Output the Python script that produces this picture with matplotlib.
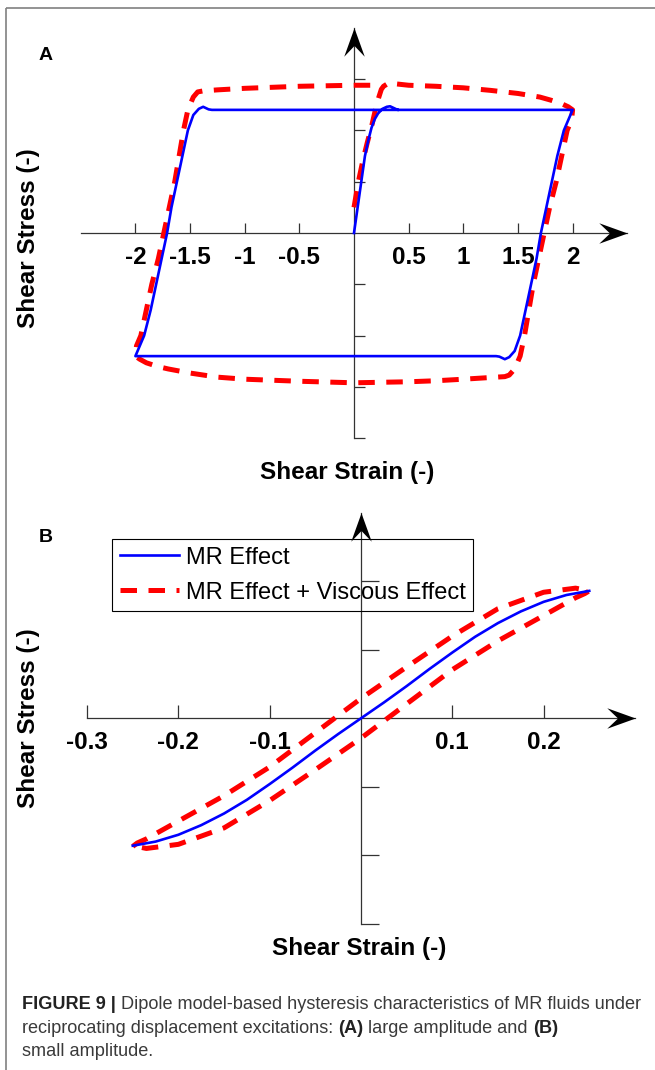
import matplotlib
matplotlib.use('Agg')
import matplotlib.pyplot as plt
from matplotlib.path import Path
from matplotlib.transforms import ScaledTranslation

plt.rcParams['font.family'] = ['Liberation Sans', 'DejaVu Sans']

W, H, DPI = 655, 1070, 100

# ---------------- Panel A data ----------------
a_xticks = [-2, -1.5, -1, -0.5, 0.5, 1, 1.5, 2]
a_xticklabels = ['-2', '-1.5', '-1', '-0.5', '0.5', '1', '1.5', '2']
a_yticks = [-4, -3, -2, -1, 1, 2, 3]

a_blue_x = [0.0, 0.02, 0.04, 0.06, 0.08, 0.10, 0.13, 0.16, 0.19, 0.22, 0.26, 0.30, 0.33, 0.36, 0.40, 2.00,
            1.98, 1.96, 1.92, 1.86, 1.81, 1.76, 1.71, 1.67, 1.62, 1.57, 1.52, 1.47, 1.42, 1.38, 1.33, 1.30, -2.00,
            -1.98, -1.96, -1.92, -1.86, -1.81, -1.76, -1.71, -1.67, -1.62, -1.57, -1.52, -1.47, -1.42, -1.38, -1.33, -1.30, 0.40]
a_blue_y = [0.0, 0.3, 0.6, 0.9, 1.2, 1.5, 1.8, 2.05, 2.22, 2.33, 2.42, 2.46, 2.47, 2.44, 2.40, 2.40,
            2.30, 2.20, 2.00, 1.50, 1.00, 0.50, 0.00, -0.50, -1.00, -1.50, -2.00, -2.30, -2.42, -2.46, -2.41, -2.40, -2.40,
            -2.30, -2.20, -2.00, -1.50, -1.00, -0.50, 0.00, 0.50, 1.00, 1.50, 2.00, 2.30, 2.42, 2.46, 2.41, 2.40, 2.40]

a_red_x = [0.00, 0.04, 0.08, 0.12, 0.16, 0.19, 0.22, 0.25, 0.27, 0.30, 0.33, 0.37,
           0.50, 0.75, 1.00, 1.25, 1.50, 1.70, 1.80, 1.90, 1.96, 2.00,
           1.99, 1.95, 1.90, 1.85, 1.79, 1.74, 1.69, 1.64, 1.60, 1.56, 1.52, 1.47, 1.42, 1.38,
           1.30, 1.00, 0.75, 0.50, 0.00, -0.50, -0.75, -1.00, -1.25, -1.50, -1.70, -1.80, -1.90, -1.96, -2.00,
           -1.99, -1.95, -1.90, -1.85, -1.79, -1.74, -1.69, -1.64, -1.60, -1.56, -1.52, -1.47, -1.43, -1.38,
           -1.25, -1.00, -0.75, -0.50, -0.25, 0.00, 0.25]
a_red_y = [0.50, 1.00, 1.40, 1.75, 2.07, 2.35, 2.60, 2.80, 2.86, 2.90, 2.94, 2.91,
           2.88, 2.86, 2.83, 2.78, 2.72, 2.65, 2.59, 2.52, 2.46, 2.40,
           2.20, 2.00, 1.50, 1.00, 0.50, 0.00, -0.50, -1.00, -1.50, -2.00, -2.40, -2.65, -2.77, -2.80,
           -2.81, -2.85, -2.88, -2.90, -2.92, -2.89, -2.87, -2.85, -2.81, -2.73, -2.65, -2.60, -2.53, -2.46, -2.40,
           -2.20, -2.00, -1.50, -1.00, -0.50, 0.00, 0.50, 1.00, 1.50, 2.00, 2.40, 2.65, 2.75, 2.77,
           2.79, 2.82, 2.84, 2.86, 2.87, 2.88, 2.88]

# ---------------- Panel B data ----------------
b_xticks = [-0.3, -0.2, -0.1, 0.1, 0.2]
b_xticklabels = ['-0.3', '-0.2', '-0.1', '0.1', '0.2']
b_yticks = [-3, -2, -1, 1, 2]

b_blue_x = [-0.25, -0.225, -0.2, -0.175, -0.15, -0.125, -0.1, -0.075, -0.05, -0.025, 0.0,
            0.025, 0.05, 0.075, 0.1, 0.125, 0.15, 0.175, 0.2, 0.225, 0.25]
b_blue_y = [-1.86, -1.80, -1.70, -1.56, -1.39, -1.19, -0.96, -0.72, -0.47, -0.23, 0.0,
            0.23, 0.47, 0.72, 0.96, 1.19, 1.39, 1.56, 1.70, 1.80, 1.86]

b_red_upper_x = [-0.25, -0.245, -0.235, -0.2, -0.15, -0.1, -0.05, 0.0, 0.05, 0.1, 0.15, 0.2, 0.235, 0.25]
b_red_upper_y = [-1.87, -1.82, -1.76, -1.50, -1.13, -0.71, -0.21, 0.29, 0.75, 1.20, 1.60, 1.84, 1.90, 1.86]
b_red_lower_x = [0.245, 0.235, 0.2, 0.15, 0.1, 0.05, 0.0, -0.05, -0.1, -0.15, -0.2, -0.235, -0.25]
b_red_lower_y = [1.82, 1.76, 1.50, 1.13, 0.71, 0.21, -0.29, -0.75, -1.20, -1.60, -1.84, -1.90, -1.86]

legend_labels = ['MR Effect', 'MR Effect + Viscous Effect']
xlabel_text = 'Shear Strain (-)'
ylabel_text = 'Shear Stress (-)'

# ---------------- styling ----------------
BLUE = '#0000ff'
RED = '#ff0000'
AXC = '#333333'
BLUE_LW = 1.9
RED_LW = 3.6
DASHES = (3.3, 2.3)
TICK_FS = 17.5

fig = plt.figure(figsize=(W / DPI, H / DPI), dpi=DPI)


def px_axes(left, top, width, height):
    return fig.add_axes([left / W, 1 - (top + height) / H, width / W, height / H])


arrow_right = Path([(0.5, 0), (-0.5, 0.36), (-0.12, 0), (-0.5, -0.36), (0.5, 0)],
                   [Path.MOVETO, Path.LINETO, Path.LINETO, Path.LINETO, Path.CLOSEPOLY])
arrow_up = Path([(0, 0.5), (0.36, -0.5), (0, -0.12), (-0.36, -0.5), (0, 0.5)],
                [Path.MOVETO, Path.LINETO, Path.LINETO, Path.LINETO, Path.CLOSEPOLY])
ARROW_MS = 20.5


def style_axes(ax, xlim, ylim, xticks, xticklabels, yticks, xtl, ytl, pad):
    ax.set_xlim(xlim)
    ax.set_ylim(ylim)
    ax.patch.set_visible(False)
    for s in ['top', 'right']:
        ax.spines[s].set_visible(False)
    ax.spines['left'].set_position(('data', 0))
    ax.spines['bottom'].set_position(('data', 0))
    for s in ['left', 'bottom']:
        ax.spines[s].set_color(AXC)
        ax.spines[s].set_linewidth(0.9)
        ax.spines[s].set_zorder(1)
    ax.set_xticks(xticks)
    ax.set_xticklabels(xticklabels)
    ax.set_yticks(yticks)
    ax.set_yticklabels([])
    ax.tick_params(axis='x', direction='in', length=xtl, width=0.9, color=AXC,
                   labelsize=TICK_FS, pad=pad)
    ax.tick_params(axis='y', direction='in', length=ytl, width=0.9, color=AXC)
    for lab in ax.get_xticklabels():
        lab.set_fontweight('bold')
    off = ARROW_MS / 2 / 72.0
    ax.plot([1], [0], marker=arrow_right, ms=ARROW_MS, color='k', mew=0, clip_on=False, zorder=6,
            transform=ax.get_yaxis_transform() + ScaledTranslation(-off, 0, fig.dpi_scale_trans))
    ax.plot([0], [1], marker=arrow_up, ms=ARROW_MS, color='k', mew=0, clip_on=False, zorder=6,
            transform=ax.get_xaxis_transform() + ScaledTranslation(0, -off, fig.dpi_scale_trans))


# Panel A: x 0 at 354 px, 109.3 px/unit ; y 0 at 233 px, 51.3 px/unit
axA = px_axes(354 - 2.5 * 109.3, 233 - 4 * 51.3, 5 * 109.3, 8 * 51.3)
style_axes(axA, (-2.5, 2.5), (-4, 4), a_xticks, a_xticklabels, a_yticks, 7.2, 8.0, 9)
axA.plot(a_red_x, a_red_y, color=RED, lw=RED_LW, dashes=DASHES, dash_capstyle='butt',
         zorder=3, clip_on=False)
axA.plot(a_blue_x, a_blue_y, color=BLUE, lw=BLUE_LW, zorder=4, clip_on=False)

# Panel B: x 0 at 361 px, 913 px/unit ; y 0 at 718.3 px, 68.5 px/unit
axB = px_axes(361 - 0.3 * 913, 718.3 - 3 * 68.5, 0.6 * 913, 6 * 68.5)
style_axes(axB, (-0.3, 0.3), (-3, 3), b_xticks, b_xticklabels, b_yticks, 9.4, 13.0, 9)
hb, = axB.plot(b_blue_x, b_blue_y, color=BLUE, lw=BLUE_LW, zorder=4, clip_on=False)
hr, = axB.plot(b_red_upper_x + b_red_lower_x, b_red_upper_y + b_red_lower_y, color=RED, lw=RED_LW,
               dashes=DASHES, dash_capstyle='butt', zorder=3, clip_on=False)
leg = axB.legend([hb, hr], legend_labels, loc='upper left',
                 bbox_to_anchor=((112 - 87.1) / 547.8, 1 - (539 - 512.8) / 411.0),
                 borderaxespad=0, frameon=True, fancybox=False, framealpha=1,
                 edgecolor='black', facecolor='none', fontsize=17, handlelength=2.5,
                 handletextpad=0.3, borderpad=0.32, labelspacing=0.55)
leg.get_frame().set_linewidth(0.8)

# ---------------- overlay for texts / frame ----------------
ov = fig.add_axes([0, 0, 1, 1])
ov.set_xlim(0, W)
ov.set_ylim(H, 0)
ov.axis('off')
ov.patch.set_visible(False)

ov.plot([6, W], [8, 8], color='#808080', lw=1.2, solid_capstyle='butt')
ov.plot([6, 6], [8, H], color='#808080', lw=1.2, solid_capstyle='butt')

ov.text(46, 55, 'A', fontsize=14, fontweight='bold', ha='center', va='center')
ov.text(46, 538, 'B', fontsize=14, fontweight='bold', ha='center', va='center')

ov.text(347, 472, xlabel_text, fontsize=17.5, fontweight='bold', ha='center', va='center')
ov.text(359, 948, xlabel_text, fontsize=17.5, fontweight='bold', ha='center', va='center')
ov.text(29, 238, ylabel_text, fontsize=17.5, fontweight='bold', ha='center', va='center', rotation=90)
ov.text(29, 718, ylabel_text, fontsize=17.5, fontweight='bold', ha='center', va='center', rotation=90)

# caption
CAP_FAM = ['Liberation Sans', 'DejaVu Sans']
CAP_FS = 13.1
CAP_COL = '#3a3a3a'


def rich_line(x, y, parts):
    first, w, c = parts[0]
    t = ov.text(x, y, first, fontsize=CAP_FS, fontweight=w, color=c, family=CAP_FAM,
                ha='left', va='baseline')
    for s, w, c in parts[1:]:
        t = ov.annotate(s, xy=(1, 0), xycoords=t, xytext=(0, 0), textcoords='offset points',
                        fontsize=CAP_FS, fontweight=w, color=c, family=CAP_FAM,
                        ha='left', va='bottom')


rich_line(22, 1009, [('FIGURE 9 |', 'bold', '#222222'),
                     (' Dipole model-based hysteresis characteristics of MR fluids under', 'normal', CAP_COL)])
rich_line(22, 1033, [('reciprocating displacement excitations: ', 'normal', CAP_COL),
                     ('(A)', 'bold', '#222222'),
                     (' large amplitude and ', 'normal', CAP_COL),
                     ('(B)', 'bold', '#222222')])
rich_line(22, 1056, [('small amplitude.', 'normal', CAP_COL)])

fig.savefig('out.png', dpi=DPI)
